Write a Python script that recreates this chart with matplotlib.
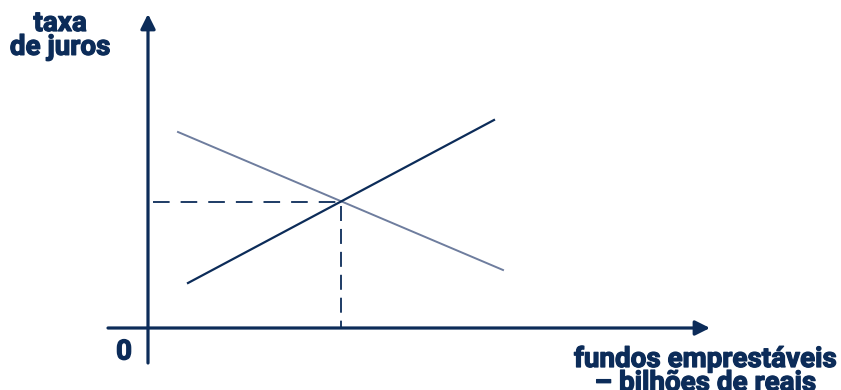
import matplotlib.pyplot as plt
import matplotlib.patheffects as pe

navy = "#0c2c59"
gray_blue = "#6e7d9e"

# values (units relative to the origin)
supply_x = [40, 346]
supply_y = [45, 208]
demand_x = [30, 355]
demand_y = [196, 58]
eq_x = 193
eq_y = 126

plt.rcParams['font.family'] = ['Roboto', 'DejaVu Sans']

fig = plt.figure(figsize=(8.41, 3.9), dpi=100)
ax = fig.add_axes([0, 0, 1, 1])
ax.set_xlim(-148, 693)
ax.set_ylim(-62, 328)
ax.axis("off")

# axes with arrows
ax.annotate("", xy=(562, 0), xytext=(-40, 0),
            arrowprops=dict(arrowstyle="-|>", color=navy, lw=2.3,
                            mutation_scale=22, shrinkA=0, shrinkB=0))
ax.annotate("", xy=(0, 314), xytext=(0, -35),
            arrowprops=dict(arrowstyle="-|>", color=navy, lw=2.3,
                            mutation_scale=22, shrinkA=0, shrinkB=0))

# curves
ax.plot(demand_x, demand_y, color=gray_blue, lw=1.4)
ax.plot(supply_x, supply_y, color=navy, lw=1.6)

# dashed guides
ax.plot([5, eq_x], [eq_y, eq_y], color=navy, lw=1.3, dashes=(9.2, 6.1))
ax.plot([eq_x, eq_x], [eq_y - 4, 0], color=navy, lw=1.3, dashes=(8.3, 4.4))

heavy = [pe.withStroke(linewidth=0.9, foreground=navy)]
ax.text(-88, 318, "taxa\nde juros", ha="center", va="top", fontsize=20,
        fontweight="bold", color=navy, linespacing=0.85, path_effects=heavy)
ax.text(-24, -24, "0", ha="center", va="center", fontsize=20,
        fontweight="bold", color=navy, path_effects=heavy)
ax.text(557, -18, "fundos emprestáveis\n– bilhões de reais", ha="center",
        va="top", fontsize=20, fontweight="bold", color=navy, linespacing=0.85,
        path_effects=heavy)

fig.savefig("out.png", dpi=100)
